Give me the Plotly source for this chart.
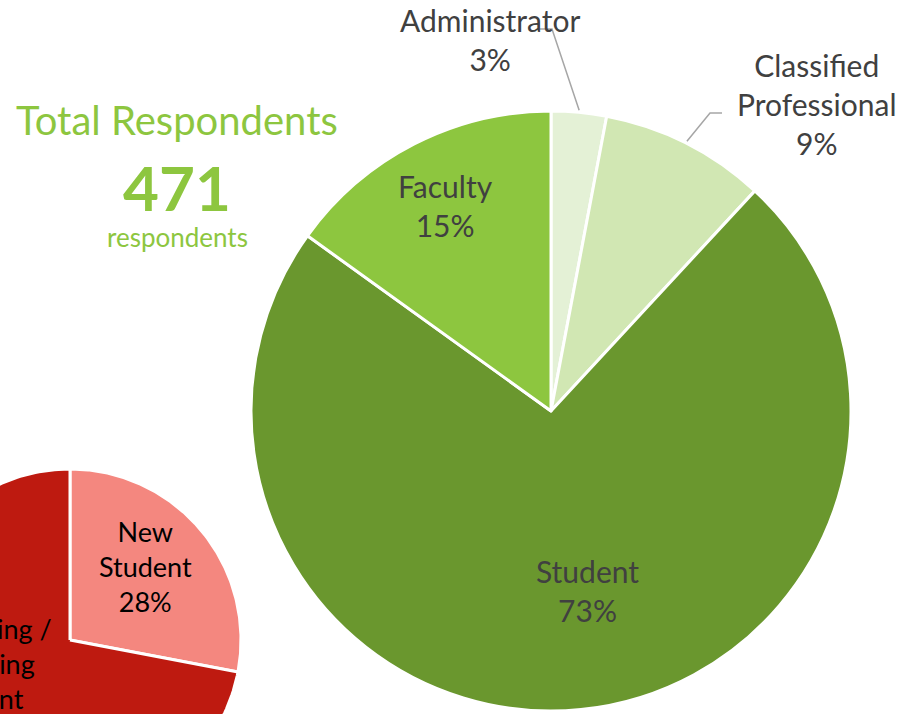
import numpy as np
import plotly.graph_objects as go

W, H = 902, 714

# ---- data ----
roles = ["Administrator", "Classified Professional", "Student", "Faculty"]
role_counts = [14, 42, 344, 71]
role_colors = ["#E4F1D6", "#D1E7B3", "#6A972E", "#8DC63F"]

status = ["New Student", "Continuing / Returning Student"]
status_pct = [28, 72]
status_colors = ["#F4877F", "#BE1A10"]

total_title = "Total Respondents"
total_value = sum(role_counts)
total_unit = "respondents"

# ---- layout geometry (pixels, y down) ----
G_CX, G_CY, G_R = 551, 411, 300
R_CX, R_CY, R_R = 70, 640, 171
FONT = "Lato"
GREEN = "#8DC63F"
LABEL_GRAY = "#404040"
G_FS = 30
R_FS = 27

fig = go.Figure()

# red pie (partially off-canvas) as wedges through the pixel axes
r_vals = np.array(status_pct, dtype=float)
r_cum = np.concatenate([[0], np.cumsum(r_vals) / r_vals.sum()])
for i, name in enumerate(status):
    a0, a1 = r_cum[i] * 2 * np.pi, r_cum[i + 1] * 2 * np.pi
    t = np.linspace(a0, a1, 200)
    xs = np.concatenate([[R_CX], R_CX + R_R * np.sin(t), [R_CX]])
    ys = np.concatenate([[R_CY], R_CY - R_R * np.cos(t), [R_CY]])
    fig.add_trace(go.Scatter(x=xs, y=ys, mode="lines", fill="toself",
                             fillcolor=status_colors[i],
                             line=dict(color="white", width=3),
                             hoverinfo="skip", showlegend=False))

# red pie labels
r_label_frac = [0.60, 0.604]
r_label_nudge = [-3.2, 13.8]
r_label_lines = [["New", "Student"], ["Continuing /", "Returning", "Student"]]
lx, ly, lt = [], [], []
for i, name in enumerate(status):
    mid = (r_cum[i] + r_cum[i + 1]) / 2 * 360 + r_label_nudge[i]
    rho = r_label_frac[i] * R_R
    lx.append(R_CX + rho * np.sin(np.radians(mid)))
    ly.append(R_CY - rho * np.cos(np.radians(mid)))
    lt.append("<br>".join(r_label_lines[i] + [f"{status_pct[i]}%"]))
fig.add_trace(go.Scatter(x=lx, y=ly, mode="text", text=lt,
                         textfont=dict(family=FONT, size=R_FS, color="black"),
                         cliponaxis=True, hoverinfo="skip", showlegend=False))

# green pie (native)
fig.add_trace(go.Pie(
    labels=roles, values=role_counts, sort=False, direction="clockwise",
    rotation=0, marker=dict(colors=role_colors, line=dict(color="white", width=3)),
    textinfo="none", hoverinfo="label+percent", showlegend=False,
    domain=dict(x=[(G_CX - G_R) / W, (G_CX + G_R) / W],
                y=[(H - G_CY - G_R) / H, (H - G_CY + G_R) / H]),
))

# green pie labels
g_vals = np.array(role_counts, dtype=float)
g_cum = np.concatenate([[0], np.cumsum(g_vals) / g_vals.sum()])
g_pct = [f"{round(100 * v / g_vals.sum())}%" for v in g_vals]
mids = [(g_cum[i] + g_cum[i + 1]) / 2 * 360 for i in range(len(roles))]

def gpt(angle, rho):
    a = np.radians(angle)
    return G_CX + rho * np.sin(a), G_CY - rho * np.cos(a)

annotations = []
# inside labels: Student, Faculty
inside = {2: (0.61, -5.7), 3: (0.77, 0.0)}
for i, (frac, nudge) in inside.items():
    x, y = gpt(mids[i] + nudge, frac * G_R)
    annotations.append(dict(x=x, y=y, xref="x", yref="y", showarrow=False,
                            text=f"{roles[i]}<br>{g_pct[i]}",
                            font=dict(family=FONT, size=G_FS, color=LABEL_GRAY)))

# outside labels with leader lines
outside = {0: dict(text_xy=(490, 39), elbow=(552, 29), end=(540, 29),
                   text=f"Administrator<br>{g_pct[0]}"),
           1: dict(text_xy=(817, 104), elbow=(710, 113), end=(722, 113),
                   text=f"Classified<br>Professional<br>{g_pct[1]}")}
shapes = []
for i, o in outside.items():
    sx, sy = gpt(mids[i], G_R + 2)
    ex, ey = o["elbow"]
    fx, fy = o["end"]
    shapes.append(dict(type="path", xref="x", yref="y",
                       path=f"M{sx},{sy} L{ex},{ey} L{fx},{fy}",
                       line=dict(color="#A6A6A6", width=1.5)))
    annotations.append(dict(x=o["text_xy"][0], y=o["text_xy"][1], xref="x", yref="y",
                            showarrow=False, text=o["text"],
                            font=dict(family=FONT, size=G_FS, color=LABEL_GRAY)))

# total respondents block
annotations += [
    dict(x=177, y=120, xref="x", yref="y", showarrow=False, text=total_title,
         font=dict(family=FONT, size=40, color=GREEN)),
    dict(x=177, y=187, xref="x", yref="y", showarrow=False, text=f"<b>{total_value}</b>",
         font=dict(family=FONT, size=62, color=GREEN)),
    dict(x=177, y=237, xref="x", yref="y", showarrow=False, text=total_unit,
         font=dict(family=FONT, size=26, color=GREEN)),
]

fig.update_layout(
    width=W, height=H, margin=dict(l=0, r=0, t=0, b=0),
    paper_bgcolor="white", plot_bgcolor="white",
    xaxis=dict(range=[0, W], visible=False, fixedrange=True, domain=[0, 1]),
    yaxis=dict(range=[H, 0], visible=False, fixedrange=True, domain=[0, 1]),
    annotations=annotations, shapes=shapes,
    font=dict(family=FONT),
)

fig.write_html("out.html", config={"displayModeBar": False},
               post_script="document.body.style.margin='0';document.body.style.overflow='hidden';")
